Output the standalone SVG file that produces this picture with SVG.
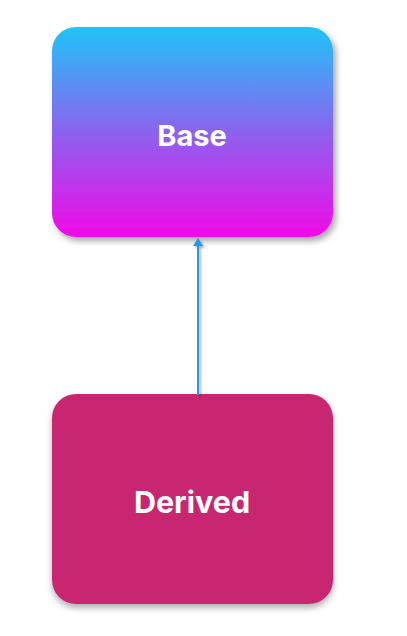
<svg xmlns="http://www.w3.org/2000/svg" width="407" height="636" viewBox="0 0 407 636">
<defs>
<linearGradient id="g" x1="0" y1="0" x2="0" y2="1">
<stop offset="0" stop-color="#1fc4f8"/>
<stop offset="0.5" stop-color="#8c62ee"/>
<stop offset="1" stop-color="#f00ae8"/>
</linearGradient>
<filter id="sh" x="-10%" y="-10%" width="125%" height="130%">
<feDropShadow dx="3" dy="4" stdDeviation="3" flood-color="#000" flood-opacity="0.35"/>
</filter>
<filter id="sh2" x="-10%" y="-10%" width="125%" height="130%">
<feDropShadow dx="0" dy="4" stdDeviation="3" flood-color="#000" flood-opacity="0.3"/>
</filter>
<filter id="lsh" filterUnits="userSpaceOnUse" x="180" y="225" width="40" height="185">
<feDropShadow dx="2" dy="2" stdDeviation="1.2" flood-color="#000" flood-opacity="0.3"/>
</filter>
<marker id="ah" markerWidth="8" markerHeight="10" refX="7" refY="5" orient="auto" markerUnits="userSpaceOnUse" viewBox="0 0 8 10">
<path d="M0,0 L8,5 L0,10 Z" fill="#1e9be8"/>
</marker>
</defs>
<style>
.lbl{font-family:Inter,"Liberation Sans",Arial,sans-serif;font-weight:700;fill:#fff;text-anchor:middle;dominant-baseline:central}
</style>
<g id="base">
<rect x="52" y="27" width="281" height="210" rx="24" fill="url(#g)" filter="url(#sh)"/>
<text class="lbl" x="192" y="135" font-size="29">Base</text>
</g>
<g id="derived">
<rect x="52" y="394" width="281" height="210" rx="24" fill="#c92872" filter="url(#sh2)"/>
<text class="lbl" x="192" y="501" font-size="30.5">Derived</text>
</g>
<g id="connectors">
<path d="M198,395 L198,239" fill="none" stroke="#1e9be8" stroke-width="2" filter="url(#lsh)" marker-end="url(#ah)"/>
</g>
</svg>
